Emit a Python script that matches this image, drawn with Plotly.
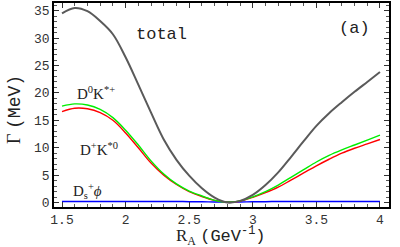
import plotly.graph_objects as go

r_a = [1.5, 1.6, 1.7, 1.8, 1.9, 2.0, 2.1, 2.2, 2.3, 2.4, 2.5, 2.6, 2.7,
       2.8, 2.9, 3.0, 3.1, 3.2, 3.3, 3.4, 3.5, 3.6, 3.7, 3.8, 3.9, 4.0]
total = [34.5, 35.5, 34.9, 33.1, 30.7, 26.5, 21.5, 16.4, 11.5, 7.8, 4.9, 2.6, 0.9,
         0.0, 0.3, 1.4, 3.2, 5.5, 8.3, 11.2, 14.0, 16.3, 18.3, 20.2, 22.0, 23.8]
d0_kstar_plus = [17.6, 18.0, 17.8, 17.0, 15.5, 13.2, 10.5, 7.6, 5.2, 3.4, 2.1, 1.2, 0.4,
                 0.05, 0.3, 1.05, 2.0, 3.2, 4.6, 6.0, 7.4, 8.6, 9.6, 10.5, 11.4, 12.3]
dplus_kstar0 = [16.6, 17.2, 17.1, 16.4, 15.0, 12.7, 10.0, 7.2, 5.0, 3.3, 2.0, 1.1, 0.4,
                0.05, 0.25, 0.95, 1.8, 2.8, 4.1, 5.4, 6.7, 7.9, 9.0, 9.9, 10.7, 11.5]
ds_phi = [0.2, 0.2, 0.2, 0.2, 0.2, 0.2, 0.2, 0.2, 0.2, 0.2, 0.15, 0.15, 0.1,
          0.1, 0.1, 0.15, 0.15, 0.2, 0.2, 0.2, 0.2, 0.2, 0.2, 0.2, 0.2, 0.2]

x_ticks = [1.5, 2, 2.5, 3, 3.5, 4]
x_tick_labels = ["1.5", "2", "2.5", "3", "3.5", "4"]
y_ticks = [0, 5, 10, 15, 20, 25, 30, 35]

mono = "Liberation Mono, Courier New, monospace"
serif = "Liberation Serif, Times New Roman, serif"

fig = go.Figure()
fig.add_trace(go.Scatter(x=r_a, y=ds_phi, mode="lines", line=dict(color="#0000ff", width=1.5, shape="spline")))
fig.add_trace(go.Scatter(x=r_a, y=dplus_kstar0, mode="lines", line=dict(color="#ff0000", width=1.4, shape="spline")))
fig.add_trace(go.Scatter(x=r_a, y=d0_kstar_plus, mode="lines", line=dict(color="#00ee00", width=1.4, shape="spline")))
fig.add_trace(go.Scatter(x=r_a, y=total, mode="lines", line=dict(color="#5a5a5a", width=2, shape="spline")))

axis_common = dict(
    showgrid=False, zeroline=False, showline=True, linecolor="black", linewidth=1.5,
    mirror="allticks", ticks="inside", ticklen=5, tickwidth=1, tickcolor="#333",
    tickfont=dict(family=mono, size=13, color="#333"),
)
fig.update_xaxes(range=[1.437, 4.071], tickvals=x_ticks, ticktext=x_tick_labels,
                 minor=dict(ticks="inside", dtick=0.1, tick0=1.5, ticklen=3, tickcolor="#555"),
                 **axis_common)
fig.update_yaxes(range=[-0.81, 36.4], tickvals=y_ticks,
                 minor=dict(ticks="inside", dtick=1, tick0=0, ticklen=3, tickcolor="#555"),
                 **axis_common)

annotations = [
    dict(x=0.322, y=0.845, text="total", font=dict(family=mono, size=17, color="#222")),
    dict(x=0.898, y=0.874, text="(a)", font=dict(family=mono, size=17, color="#222")),
    dict(x=0.125, y=0.56, text="D<sup>0</sup>K<sup>*+</sup>", font=dict(family=serif, size=15, color="#222")),
    dict(x=0.135, y=0.286, text="D<sup>+</sup>K<sup>*0</sup>", font=dict(family=serif, size=15, color="#222")),
    dict(x=0.10, y=0.078, text="D<sub>s</sub><sup>+</sup><i>ϕ</i>", font=dict(family=serif, size=15, color="#222")),
    dict(x=0.496, y=-0.142, text="R<sub>A</sub> <span style='font-family:" + mono + "'>(GeV<sup>-1</sup>)</span>",
         font=dict(family=serif, size=17, color="#222")),
    dict(x=-0.12, y=0.48, textangle=-90, text="Γ <span style='font-family:" + mono + "'>(MeV)</span>",
         font=dict(family=serif, size=18, color="#222")),
]
for a in annotations:
    a.update(xref="paper", yref="paper", showarrow=False, xanchor="center", yanchor="middle")
fig.update_layout(
    width=400, height=247, margin=dict(l=54, r=11, t=1, b=40),
    paper_bgcolor="white", plot_bgcolor="white", showlegend=False,
    annotations=annotations,
)
fig.write_html("out.html", config={"displayModeBar": False},
               post_script="document.body.style.margin='0';document.body.style.overflow='hidden';")
